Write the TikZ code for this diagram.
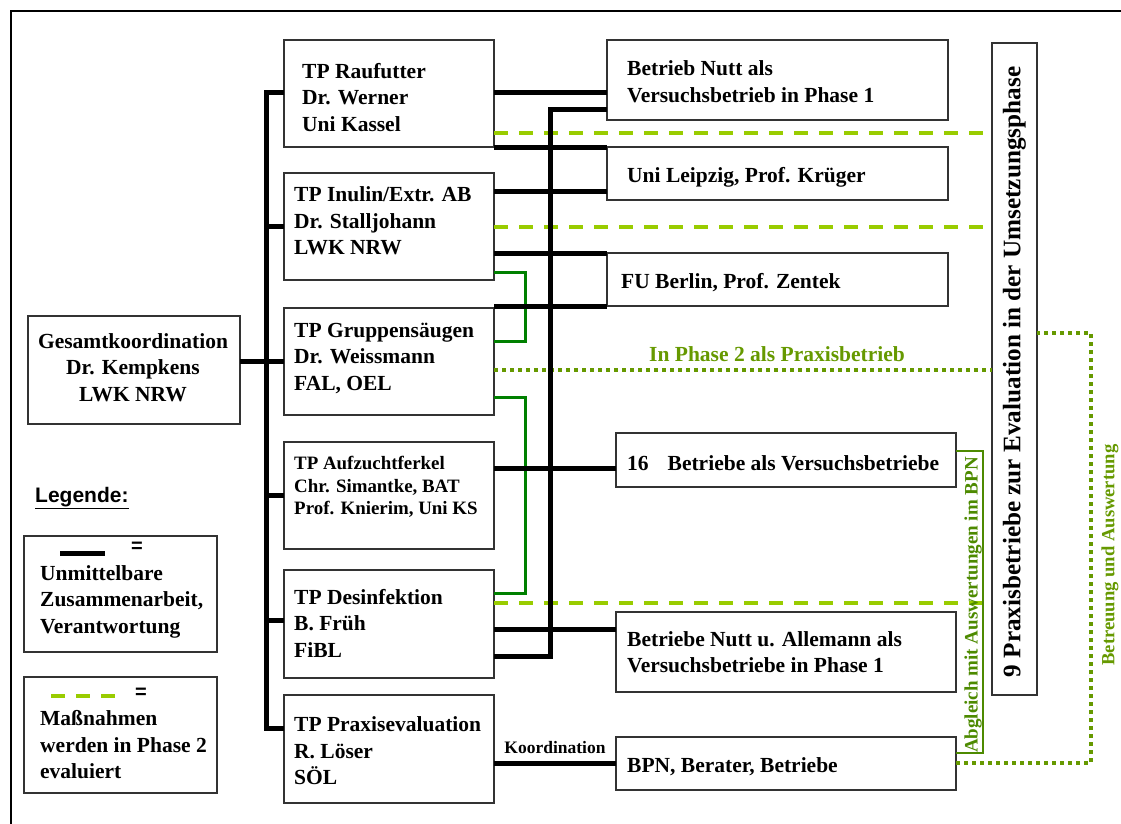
\documentclass[tikz,border=0pt]{standalone}
\usepackage{fontspec}
\setmainfont{Liberation Serif}
\newfontfamily\arialfont{Liberation Sans}
\usetikzlibrary{calc}
\definecolor{lgreen}{HTML}{99CC00}
\definecolor{ogreen}{HTML}{669900}
\definecolor{dgreen}{HTML}{008000}
\definecolor{agreen}{HTML}{4D8A00}
\definecolor{bordergray}{HTML}{333333}
\tikzset{
  box/.style={draw=bordergray, line width=1.3pt, anchor=north west, inner sep=0pt, outer sep=0pt},
  txt/.style={anchor=west, align=left, inner sep=0pt, font=\fontsize{21.5}{26.5}\selectfont\bfseries},
  smalltxt/.style={anchor=west, align=left, inner sep=0pt, font=\fontsize{18.9}{22.5}\selectfont\bfseries},
  bk/.style={line width=5pt, black},
  grnbr/.style={line width=3pt, dgreen},
  dashline/.style={line width=4pt, lgreen, dash pattern=on 14pt off 11pt},
  dotline/.style={line width=4pt, ogreen, dash pattern=on 4pt off 4pt},
  thinline/.style={line width=1.5pt, agreen},
}
\begin{document}
\begin{tikzpicture}[x=1pt,y=-1pt]
\useasboundingbox (0,0) rectangle (1121,824);
% outer frame (top and left edges)
\draw[line width=2.5pt] (1121,11) -- (11,11) -- (11,824);

% left column boxes
\node[box, minimum width=212pt, minimum height=108pt] (ges) at (28,316) {};
\node[txt, align=center, anchor=center] (gesT) at (133,367.5) {Gesamtkoordination\\Dr. Kempkens\\LWK NRW};

% TP boxes
\node[box, minimum width=210pt, minimum height=107pt] (rauf) at (284,40) {};
\node[box, minimum width=210pt, minimum height=107pt] (inu) at (284,173) {};
\node[box, minimum width=210pt, minimum height=107pt] (grp) at (284,308) {};
\node[box, minimum width=210pt, minimum height=107pt] (auf) at (284,442) {};
\node[box, minimum width=210pt, minimum height=108pt] (des) at (284,570) {};
\node[box, minimum width=210pt, minimum height=108pt] (prx) at (284,695) {};
\node[txt] (raufT) at (302,97.5) {TP Raufutter\\Dr. Werner\\Uni Kassel};
\node[txt] (inuT) at (294,221) {TP Inulin/Extr. AB\\Dr. Stalljohann\\LWK NRW};
\node[txt] (grpT) at (294,358) {TP Gruppensäugen\\Dr. Weissmann\\FAL, OEL};
\node[smalltxt] (aufT) at (294,487) {TP Aufzuchtferkel\\Chr. Simantke, BAT\\Prof. Knierim, Uni KS};
\node[txt] (desT) at (294,623) {TP Desinfektion\\B. Früh\\FiBL};
\node[txt] (prxT) at (294,751) {TP Praxisevaluation\\R. Löser\\SÖL};

% right boxes
\node[box, minimum width=341pt, minimum height=80pt] (nutt) at (607,40) {};
\node[box, minimum width=341pt, minimum height=53pt] (leip) at (607,147) {};
\node[box, minimum width=341pt, minimum height=53pt] (fub) at (607,253) {};
\node[box, minimum width=340pt, minimum height=54pt] (b16) at (616,433) {};
\node[box, minimum width=340pt, minimum height=80pt] (nal) at (616,612) {};
\node[box, minimum width=340pt, minimum height=53pt] (bpn) at (616,737) {};
\node[txt] (nuttT) at (627,81.5) {Betrieb Nutt als\\Versuchsbetrieb in Phase 1};
\node[txt] (leipT) at (627,177) {Uni Leipzig, Prof. Krüger};
\node[txt] (fubT) at (621,283) {FU Berlin, Prof. Zentek};
\node[txt] (b16T) at (627,463) {16\hspace{19pt}Betriebe als Versuchsbetriebe};
\node[txt] (nalT) at (627,652) {Betriebe Nutt u. Allemann als\\Versuchsbetriebe in Phase 1};
\node[txt] (bpnT) at (627,767) {BPN, Berater, Betriebe};

% vertical box
\node[box, minimum width=45pt, minimum height=652pt] (p9) at (992,43) {};
\node[rotate=90, inner sep=0pt, font=\fontsize{25.2}{28}\selectfont\bfseries] (p9T) at ($(p9.center)+(0,3)$) {9 Praxisbetriebe zur Evaluation in der Umsetzungsphase};

% legend
\node[anchor=west, inner sep=0pt, font=\arialfont\bfseries\fontsize{21}{24}\selectfont] (leg) at (35,498) {\underline{Legende:}};
\node[box, minimum width=193pt, minimum height=116pt] (lg1) at (24,536) {};
\node[box, minimum width=193pt, minimum height=116pt] (lg2) at (24,677) {};
\draw[bk] (60,553) -- (105,553);
\node[inner sep=0pt, font=\arialfont\bfseries\fontsize{20}{22}\selectfont] (eq1) at (137,547) {=};
\node[txt] (lg1T) at (40,601.5) {Unmittelbare\\Zusammenarbeit,\\Verantwortung};
\draw[line width=4pt, lgreen, dash pattern=on 14pt off 11pt] (51,696) -- (115,696);
\node[inner sep=0pt, font=\arialfont\bfseries\fontsize{20}{22}\selectfont] (eq2) at (141,693) {=};
\node[txt] (lg2T) at (40,745) {Maßnahmen\\werden in Phase 2\\evaluiert};

% left bus
\draw[bk] (ges.east |- grp.west) -- (grp.west);
\draw[bk] (rauf.west |- 0,93) -| (266,728) -- (prx.west |- 0,728);
\draw[bk] (266,226.5) -- (inu.west);
\draw[bk] (266,495.5) -- (auf.west);
\draw[bk] (266,620) -- (des.west |- 0,620);

% green brackets
\draw[grnbr] (inu.east |- 0,272) -- (525,272) -- (525,341) -- (grp.east |- 0,341);
\draw[grnbr] (grp.east |- 0,397) -- (525,397) -- (525,593) -- (des.east |- 0,593);

% dashed / dotted lines to p9
\draw[dashline] (rauf.east |- 0,133) -- (p9.west |- 0,133);
\draw[dashline] (inu.east |- 0,227) -- (p9.west |- 0,227);
\draw[dashline] (des.east |- 0,603) -- (p9.west |- 0,603);
\draw[dotline] (grp.east |- 0,370) -- (p9.west |- 0,370);
\node[inner sep=0pt, font=\fontsize{21.5}{26.5}\selectfont\bfseries, text=ogreen] (ph2) at (777,354) {In Phase 2 als Praxisbetrieb};

% right black connectors
\draw[bk] (rauf.east |- 0,93) -- (nutt.west |- 0,93);
\draw[bk] (nutt.west |- 0,110) -| (550,656) -- (des.east |- 0,656);
\draw[bk] (rauf.south east) -- (leip.north west);
\draw[bk] (inu.east |- 0,191) -- (leip.west |- 0,191);
\draw[bk] (inu.east |- fub.north west) -- (fub.north west);
\draw[bk] (grp.east |- fub.south west) -- (fub.south west);
\draw[bk] (auf.east |- 0,468) -- (b16.west |- 0,468);
\draw[bk] (des.east |- 0,629) -- (nal.west |- 0,629);
\draw[bk] (prx.east |- bpn.west) -- (bpn.west);
\node[inner sep=0pt, anchor=south, font=\fontsize{17.5}{20}\selectfont\bfseries] (koord) at ($(prx.east |- bpn.west)!0.5!(bpn.west) + (0,-10)$) {Koordination};

% Abgleich
\draw[thinline] (b16.east |- 0,451) -- (983,451) -- (983,753) -- (bpn.east |- 0,753);
\node[rotate=90, inner sep=0pt, font=\fontsize{19}{22}\selectfont\bfseries, text=agreen] (abg) at (973,605) {Abgleich mit Auswertungen im BPN};

% Betreuung
\draw[dotline] (bpn.east |- 0,763) -- (1091,763) -- (1091,333) -- (p9.east |- 0,333);
\node[rotate=90, inner sep=0pt, font=\fontsize{18.6}{20}\selectfont\bfseries, text=ogreen] (betr) at (1110,555) {Betreuung und Auswertung};
\end{tikzpicture}
\end{document}
